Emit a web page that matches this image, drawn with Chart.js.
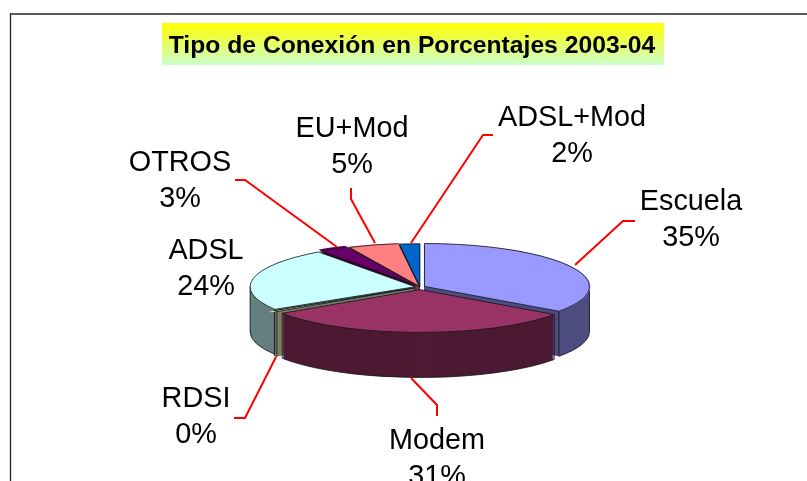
<!DOCTYPE html>
<html>
<head>
<meta charset="utf-8">
<style>html,body{margin:0;padding:0;background:#fff;overflow:hidden}canvas{display:block}</style>
<script src="https://cdn.jsdelivr.net/npm/chart.js@4"></script>
</head>
<body>
<canvas id="c" width="807" height="481"></canvas>
<script>
const chartTitle = "Tipo de Conexión en Porcentajes 2003-04";
const categories = ["Escuela", "Modem", "RDSI", "ADSL", "OTROS", "EU+Mod", "ADSL+Mod"];
const shares = [35, 31, 0.45, 24, 3, 5, 2];
const percentLabels = ["35%", "31%", "0%", "24%", "3%", "5%", "2%"];

const topColours = ["#9999ff", "#993366", "#ffffcc", "#ccffff", "#660066", "#ff8080", "#0066cc"];
const sideColours = ["#4d4d80", "#4d1a33", "#7f7f66", "#667f7f", "#330033", "#804040", "#003366"];
const explode = [20, 40, 26, 20, 24, 12, 4];

const RADIUS = 165, SQUASH = 0.26, HUB_Y = 287, DEPTH = 45;
const labelBoxes = [
  {x: 691, y: 202, line: [[575,265],[623,221],[635,221]]},
  {x: 437, y: 441, line: [[411,378],[437,405],[437,416]]},
  {x: 196, y: 399, line: [[276,357],[245,418],[234,418]]},
  {x: 206, y: 251, line: null},
  {x: 180, y: 163, line: [[337,247],[245,180],[235,180]]},
  {x: 352, y: 129, line: [[375,243],[351,199],[351,188]]},
  {x: 572, y: 118, line: [[411,243],[483,135],[493,135]]}
];

function wedge(arc) {
  const p = arc.getProps(["x","y","startAngle","endAngle","outerRadius"], true);
  const off = (arc.options.offset || 0) / 4;
  const mid = (p.startAngle + p.endAngle) / 2;
  return {
    hx: p.x + Math.cos(mid) * off,
    hy: HUB_Y + Math.sin(mid) * off * SQUASH,
    r: p.outerRadius, a0: p.startAngle, a1: p.endAngle, midY: Math.sin(mid)
  };
}
function tracePath(ctx, w, d) {
  ctx.beginPath();
  ctx.moveTo(w.hx, w.hy + d);
  ctx.ellipse(w.hx, w.hy + d, w.r, w.r * SQUASH, 0, w.a0, w.a1);
  ctx.closePath();
}
function inRange(a, a0, a1) {
  const t = Math.PI * 2;
  for (const k of [-1, 0, 1]) { if (a + k * t >= a0 && a + k * t <= a1) return true; }
  return false;
}

const pie3d = {
  id: "pie3d",
  beforeDraw(chart) {
    const ctx = chart.ctx;
    ctx.save();
    ctx.fillStyle = "#fff";
    ctx.fillRect(0, 0, chart.width, chart.height);
    ctx.strokeStyle = "#222";
    ctx.lineWidth = 1.3;
    ctx.beginPath();
    ctx.moveTo(10.5, chart.height);
    ctx.lineTo(10.5, 14);
    ctx.lineTo(chart.width, 14);
    ctx.stroke();
    const g = ctx.createLinearGradient(0, 23, 0, 65);
    g.addColorStop(0, "#ffff00");
    g.addColorStop(1, "#ccffcc");
    ctx.fillStyle = g;
    ctx.fillRect(162, 23, 502, 42);
    ctx.fillStyle = "#000";
    ctx.font = "bold 24.7px 'Liberation Sans'";
    ctx.textAlign = "center";
    ctx.textBaseline = "middle";
    ctx.fillText(chartTitle, 412, 46);
    ctx.restore();
  },
  beforeDatasetsDraw(chart) {
    const ctx = chart.ctx;
    const arcs = chart.getDatasetMeta(0).data;
    const items = arcs.map((a, i) => ({w: wedge(a), i})).sort((p, q) => p.w.midY - q.w.midY);
    ctx.save();
    for (const {w, i} of items) {
      ctx.fillStyle = sideColours[i];
      for (let d = DEPTH; d >= 1; d--) { tracePath(ctx, w, d); ctx.fill(); }
      ctx.strokeStyle = "#111";
      ctx.lineWidth = 0.8;
      const from = Math.max(w.a0, 0), to = Math.min(w.a1, Math.PI);
      if (to > from) {
        ctx.beginPath();
        ctx.ellipse(w.hx, w.hy + DEPTH, w.r, w.r * SQUASH, 0, from, to);
        ctx.stroke();
      }
      for (const a of [w.a0, w.a1, 0, Math.PI]) {
        if (!inRange(a, w.a0, w.a1) || Math.sin(a) < -0.01) continue;
        const x = w.hx + Math.cos(a) * w.r, y = w.hy + Math.sin(a) * w.r * SQUASH;
        ctx.beginPath(); ctx.moveTo(x, y); ctx.lineTo(x, y + DEPTH); ctx.stroke();
      }
    }
    ctx.restore();
    const cy = arcs[0].y;
    ctx.save();
    ctx.translate(0, HUB_Y);
    ctx.scale(1, SQUASH);
    ctx.translate(0, -cy);
  },
  afterDatasetsDraw(chart) {
    const ctx = chart.ctx;
    ctx.restore();
    const arcs = chart.getDatasetMeta(0).data;
    ctx.save();
    ctx.strokeStyle = "#111";
    ctx.lineWidth = 0.8;
    arcs.forEach(a => { tracePath(ctx, wedge(a), 0); ctx.stroke(); });
    ctx.restore();

    ctx.save();
    ctx.strokeStyle = "#ff0000";
    ctx.lineWidth = 2;
    ctx.fillStyle = "#000";
    ctx.font = "28.8px 'Liberation Sans'";
    ctx.textAlign = "center";
    ctx.textBaseline = "middle";
    labelBoxes.forEach((b, i) => {
      if (b.line) {
        ctx.beginPath();
        b.line.forEach((pt, k) => k ? ctx.lineTo(pt[0], pt[1]) : ctx.moveTo(pt[0], pt[1]));
        ctx.stroke();
      }
      ctx.fillText(categories[i], b.x, b.y);
      ctx.fillText(percentLabels[i], b.x, b.y + 36);
    });
    ctx.restore();
  }
};

new Chart(document.getElementById("c"), {
  type: "pie",
  data: {
    labels: categories,
    datasets: [{
      data: shares,
      backgroundColor: topColours,
      offset: explode,
      borderWidth: 0,
      clip: false
    }]
  },
  options: {
    responsive: false,
    animation: false,
    radius: RADIUS,
    layout: {padding: {left: 33}},
    plugins: {legend: {display: false}, tooltip: {enabled: false}, title: {display: false}}
  },
  plugins: [pie3d]
});
</script>
</body>
</html>
